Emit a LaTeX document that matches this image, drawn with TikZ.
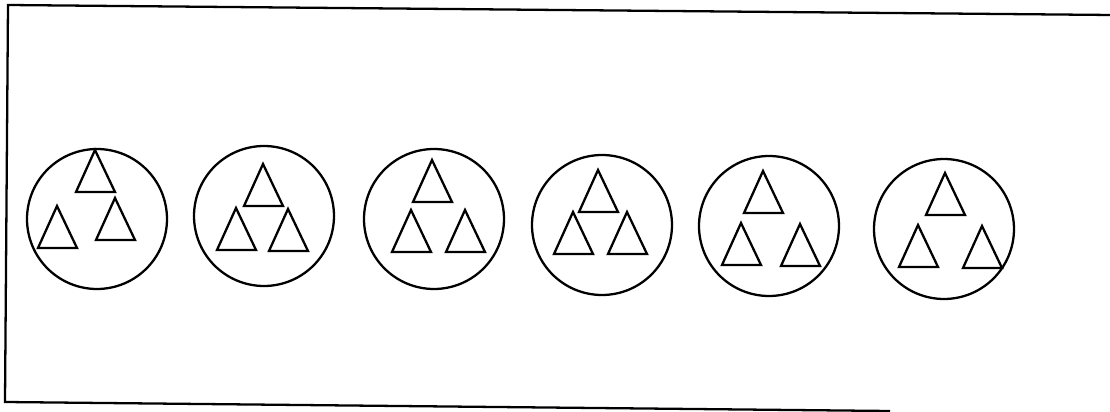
\documentclass[tikz,border=0pt]{standalone}
\usepackage{tikz}
\usetikzlibrary{positioning, calc}

\begin{document}
\begin{tikzpicture}[x=0.02cm, y=-0.02cm,
  coin/.style={circle, draw, line width=1.3pt, inner sep=0pt,
               minimum size=2.8cm},
  tri/.style={line width=1.3pt, line join=miter},
  frame/.style={line width=1.3pt},
]
\useasboundingbox (0,0) rectangle (1110,412);

% outer frame (slightly skewed, open on the right)
\begin{scope}
\clip (0,0) rectangle (1110,412);
\draw[frame] (1112,15) -- (8,5) -- (5,402) -- (890,411);
\end{scope}

% the six circles
\node[coin] (c1) at (97,219)  {};
\node[coin] (c2) at (264,216) {};
\node[coin] (c3) at (434,219) {};
\node[coin] (c4) at (602,225) {};
\node[coin] (c5) at (769,226) {};
\node[coin] (c6) at (944,229) {};

% three triangles in each circle (apex points)
\foreach \ax/\ay in {95/150, 57/206, 115/198,
                     263/164, 236/208, 288/209,
                     432/160, 411/210, 465/210,
                     598/170, 573/212, 627/212,
                     763/171, 741/223, 800/224,
                     945/173, 918/225, 982/226}
  \draw[tri] (\ax,\ay) -- ++(-19,42) -- ++(39,0) -- cycle;

\end{tikzpicture}
\end{document}
